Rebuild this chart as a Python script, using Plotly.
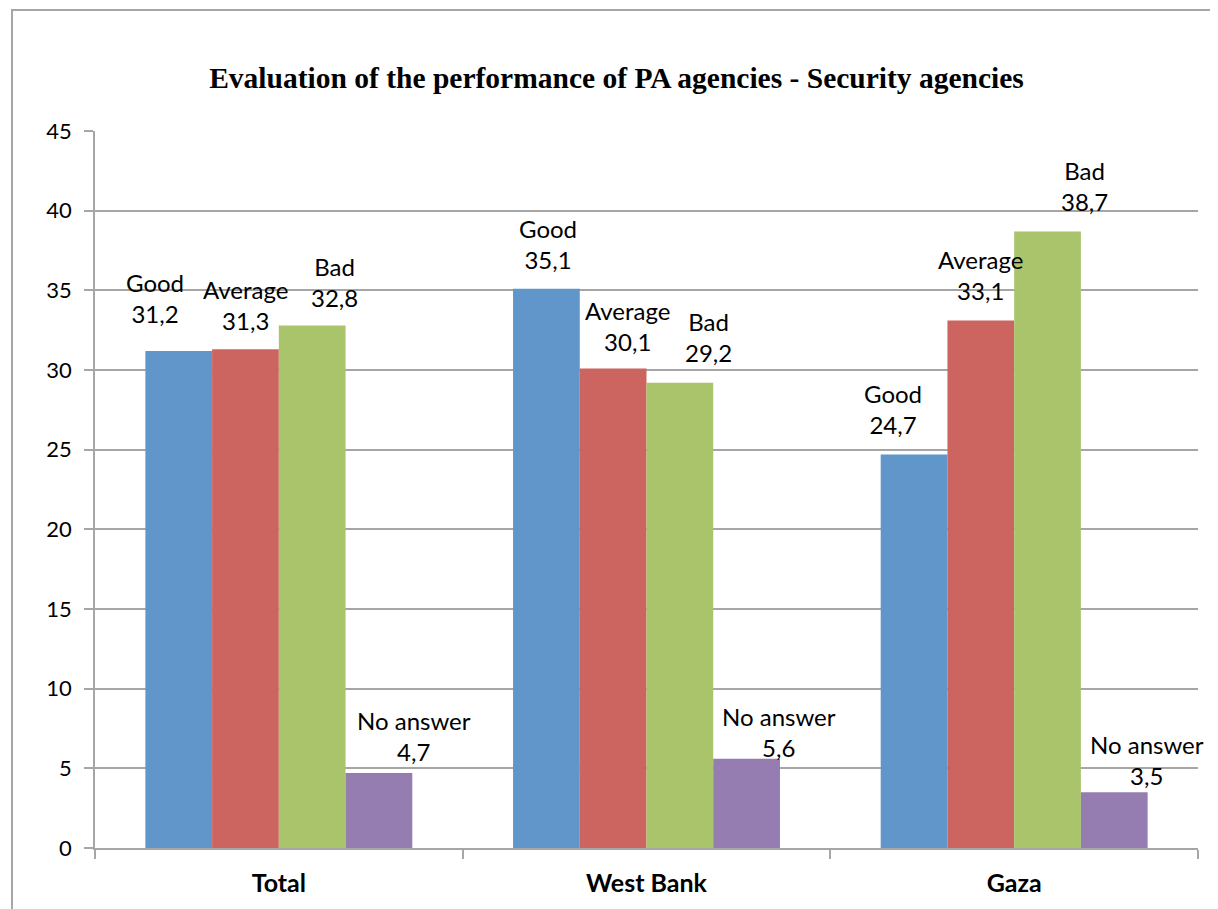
import plotly.graph_objects as go

regions = ["Total", "West Bank", "Gaza"]
answers = ["Good", "Average", "Bad", "No answer"]
good = [31.2, 35.1, 24.7]
average = [31.3, 30.1, 33.1]
bad = [32.8, 29.2, 38.7]
no_answer = [4.7, 5.6, 3.5]

colors = ["#6096C9", "#CC6560", "#AAC46C", "#957CB1"]

# label nudges (px) as placed by hand in the original chart
label_dx = [[-24, 0, 22, 35], [2, 14, 29, 32], [-21, 0, 37, 33]]
label_dy = [[53, 44, 43, 37], [45, 42, 46, 27], [45, 46, 45, 32]]

series = [good, average, bad, no_answer]
bargap = 0.274
bar_w = (1 - bargap) / len(series)

fig = go.Figure()
for name, vals, col in zip(answers, series, colors):
    fig.add_trace(go.Bar(x=regions, y=vals, name=name,
                         marker=dict(color=col, line=dict(width=0))))

annotations = []
for i in range(len(regions)):
    for k, (name, vals) in enumerate(zip(answers, series)):
        annotations.append(dict(
            x=i + (k - 1.5) * bar_w, y=vals[i], xref="x", yref="y",
            text=f"{name}<br>{str(vals[i]).replace('.', ',')}",
            showarrow=False, xanchor="center", yanchor="middle",
            xshift=label_dx[i][k], yshift=label_dy[i][k],
            font=dict(family="Lato", size=24, color="black")))

# page has an 8px body margin, so the figure is a bit smaller than the window
W, H = 1210, 901
fig.update_layout(
    width=W, height=H,
    margin=dict(l=87, r=20, t=123, b=61),
    paper_bgcolor="white", plot_bgcolor="white",
    barmode="group", bargap=bargap, bargroupgap=0,
    showlegend=False,
    font=dict(family="Lato", size=22, color="black"),
    title=dict(text="<b>Evaluation of the performance of PA agencies - Security agencies</b>",
               x=608.5 / W, xanchor="center", y=1 - 70 / H, yanchor="middle",
               font=dict(family="Liberation Serif", size=29.5, color="black")),
    annotations=annotations,
    shapes=[dict(type="rect", xref="paper", yref="paper",
                 x0=(12 - 95) / 1103, x1=(1215 - 95) / 1103,
                 y0=-0.1, y1=(848 - 10) / 717,
                 line=dict(color="#A6A6A6", width=2), fillcolor="rgba(0,0,0,0)",
                 layer="below")],
)
fig.update_yaxes(range=[0, 45], dtick=5, showgrid=True, gridcolor="#A6A6A6", gridwidth=1.5,
                 showline=True, linecolor="#A6A6A6", linewidth=1.5,
                 ticks="outside", ticklen=9, tickcolor="#A6A6A6", tickwidth=1.5,
                 ticklabelstandoff=8, zeroline=False,
                 tickfont=dict(family="Lato", size=22))
fig.update_xaxes(range=[-0.5, len(regions) - 0.5],
                 showline=True, linecolor="#A6A6A6", linewidth=1.5,
                 ticks="outside", tickson="boundaries", ticklen=9,
                 tickcolor="#A6A6A6", tickwidth=1.5, ticklabelstandoff=12,
                 tickfont=dict(family="Lato", size=25, color="black"),
                 tickprefix="<b>", ticksuffix="</b>")

fig.write_html("out.html")
